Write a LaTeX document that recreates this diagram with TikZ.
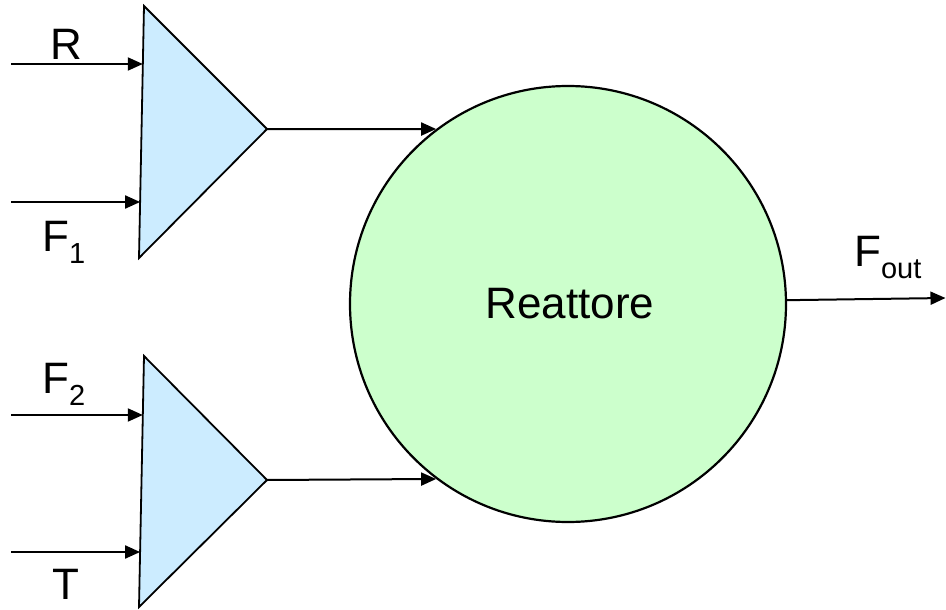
\documentclass[tikz,border=0pt]{standalone}
\usepackage{fontspec}
\setmainfont{Liberation Sans}
\usetikzlibrary{arrows.meta}
\definecolor{ampfill}{RGB}{204,236,255}
\definecolor{reacfill}{RGB}{204,255,204}
\newcommand{\bigtxt}{\fontsize{44}{50}\selectfont}
\newcommand{\subtxt}[1]{\raisebox{-0.28em}{\fontsize{29}{32}\selectfont #1}}
\tikzset{
  amp/.style={draw=black, line width=1.8pt, fill=ampfill, line join=miter},
  reactor/.style={circle, draw=black, line width=2.2pt, fill=reacfill, minimum size=436pt, inner sep=0pt},
  flow/.style={line width=2pt, -{Triangle[length=15pt,width=13pt]}},
  lbl/.style={inner sep=0pt, font=\bigtxt}
}
\begin{document}
\begin{tikzpicture}[x=1pt, y=-1pt]
\useasboundingbox (0,0) rectangle (946,610);

% upper amplifier
\coordinate (a1t) at (144,6);
\coordinate (a1b) at (139,258);
\coordinate (a1o) at (267,129);
\draw[amp] (a1t) -- (a1o) -- (a1b) -- cycle;
% lower amplifier
\coordinate (a2t) at (144,356);
\coordinate (a2b) at (139,607);
\coordinate (a2o) at (267,480);
\draw[amp] (a2t) -- (a2o) -- (a2b) -- cycle;

% reactor vessel
\node[reactor] (reac) at (568,304) {};
\node[lbl, anchor=base] (reactxt) at (570,318) {Reattore};

% input signals
\coordinate (inR) at (11,64);
\coordinate (inRend) at (142.8,64);
\coordinate (inF1) at (11,202);
\coordinate (inF1end) at (140.1,202);
\coordinate (inF2) at (11,415);
\coordinate (inF2end) at (142.8,415);
\coordinate (inT) at (11,552);
\coordinate (inTend) at (140.1,552);
\draw[flow] (inR) -- (inRend);
\draw[flow] (inF1) -- (inF1end);
\draw[flow] (inF2) -- (inF2end);
\draw[flow] (inT) -- (inTend);

% amplifier outputs into the reactor
\draw[flow] (a1o) -- (reac.127);
\draw[flow] (a2o) -- (reac.233.5);

% reactor outflow
\coordinate (outend) at (945.5,298);
\draw[flow] (reac.1.6) -- (outend);

% labels
\node[lbl, anchor=base] (lR) at (66,60) {R};
\node[lbl, anchor=base west] (lF1) at (42,251) {F\subtxt{1}};
\node[lbl, anchor=base west] (lF2) at (42,393) {F\subtxt{2}};
\node[lbl, anchor=base] (lT) at (66,599) {T};
\node[lbl, anchor=base west] (lFout) at (854,266) {F\subtxt{out}};
\end{tikzpicture}
\end{document}
